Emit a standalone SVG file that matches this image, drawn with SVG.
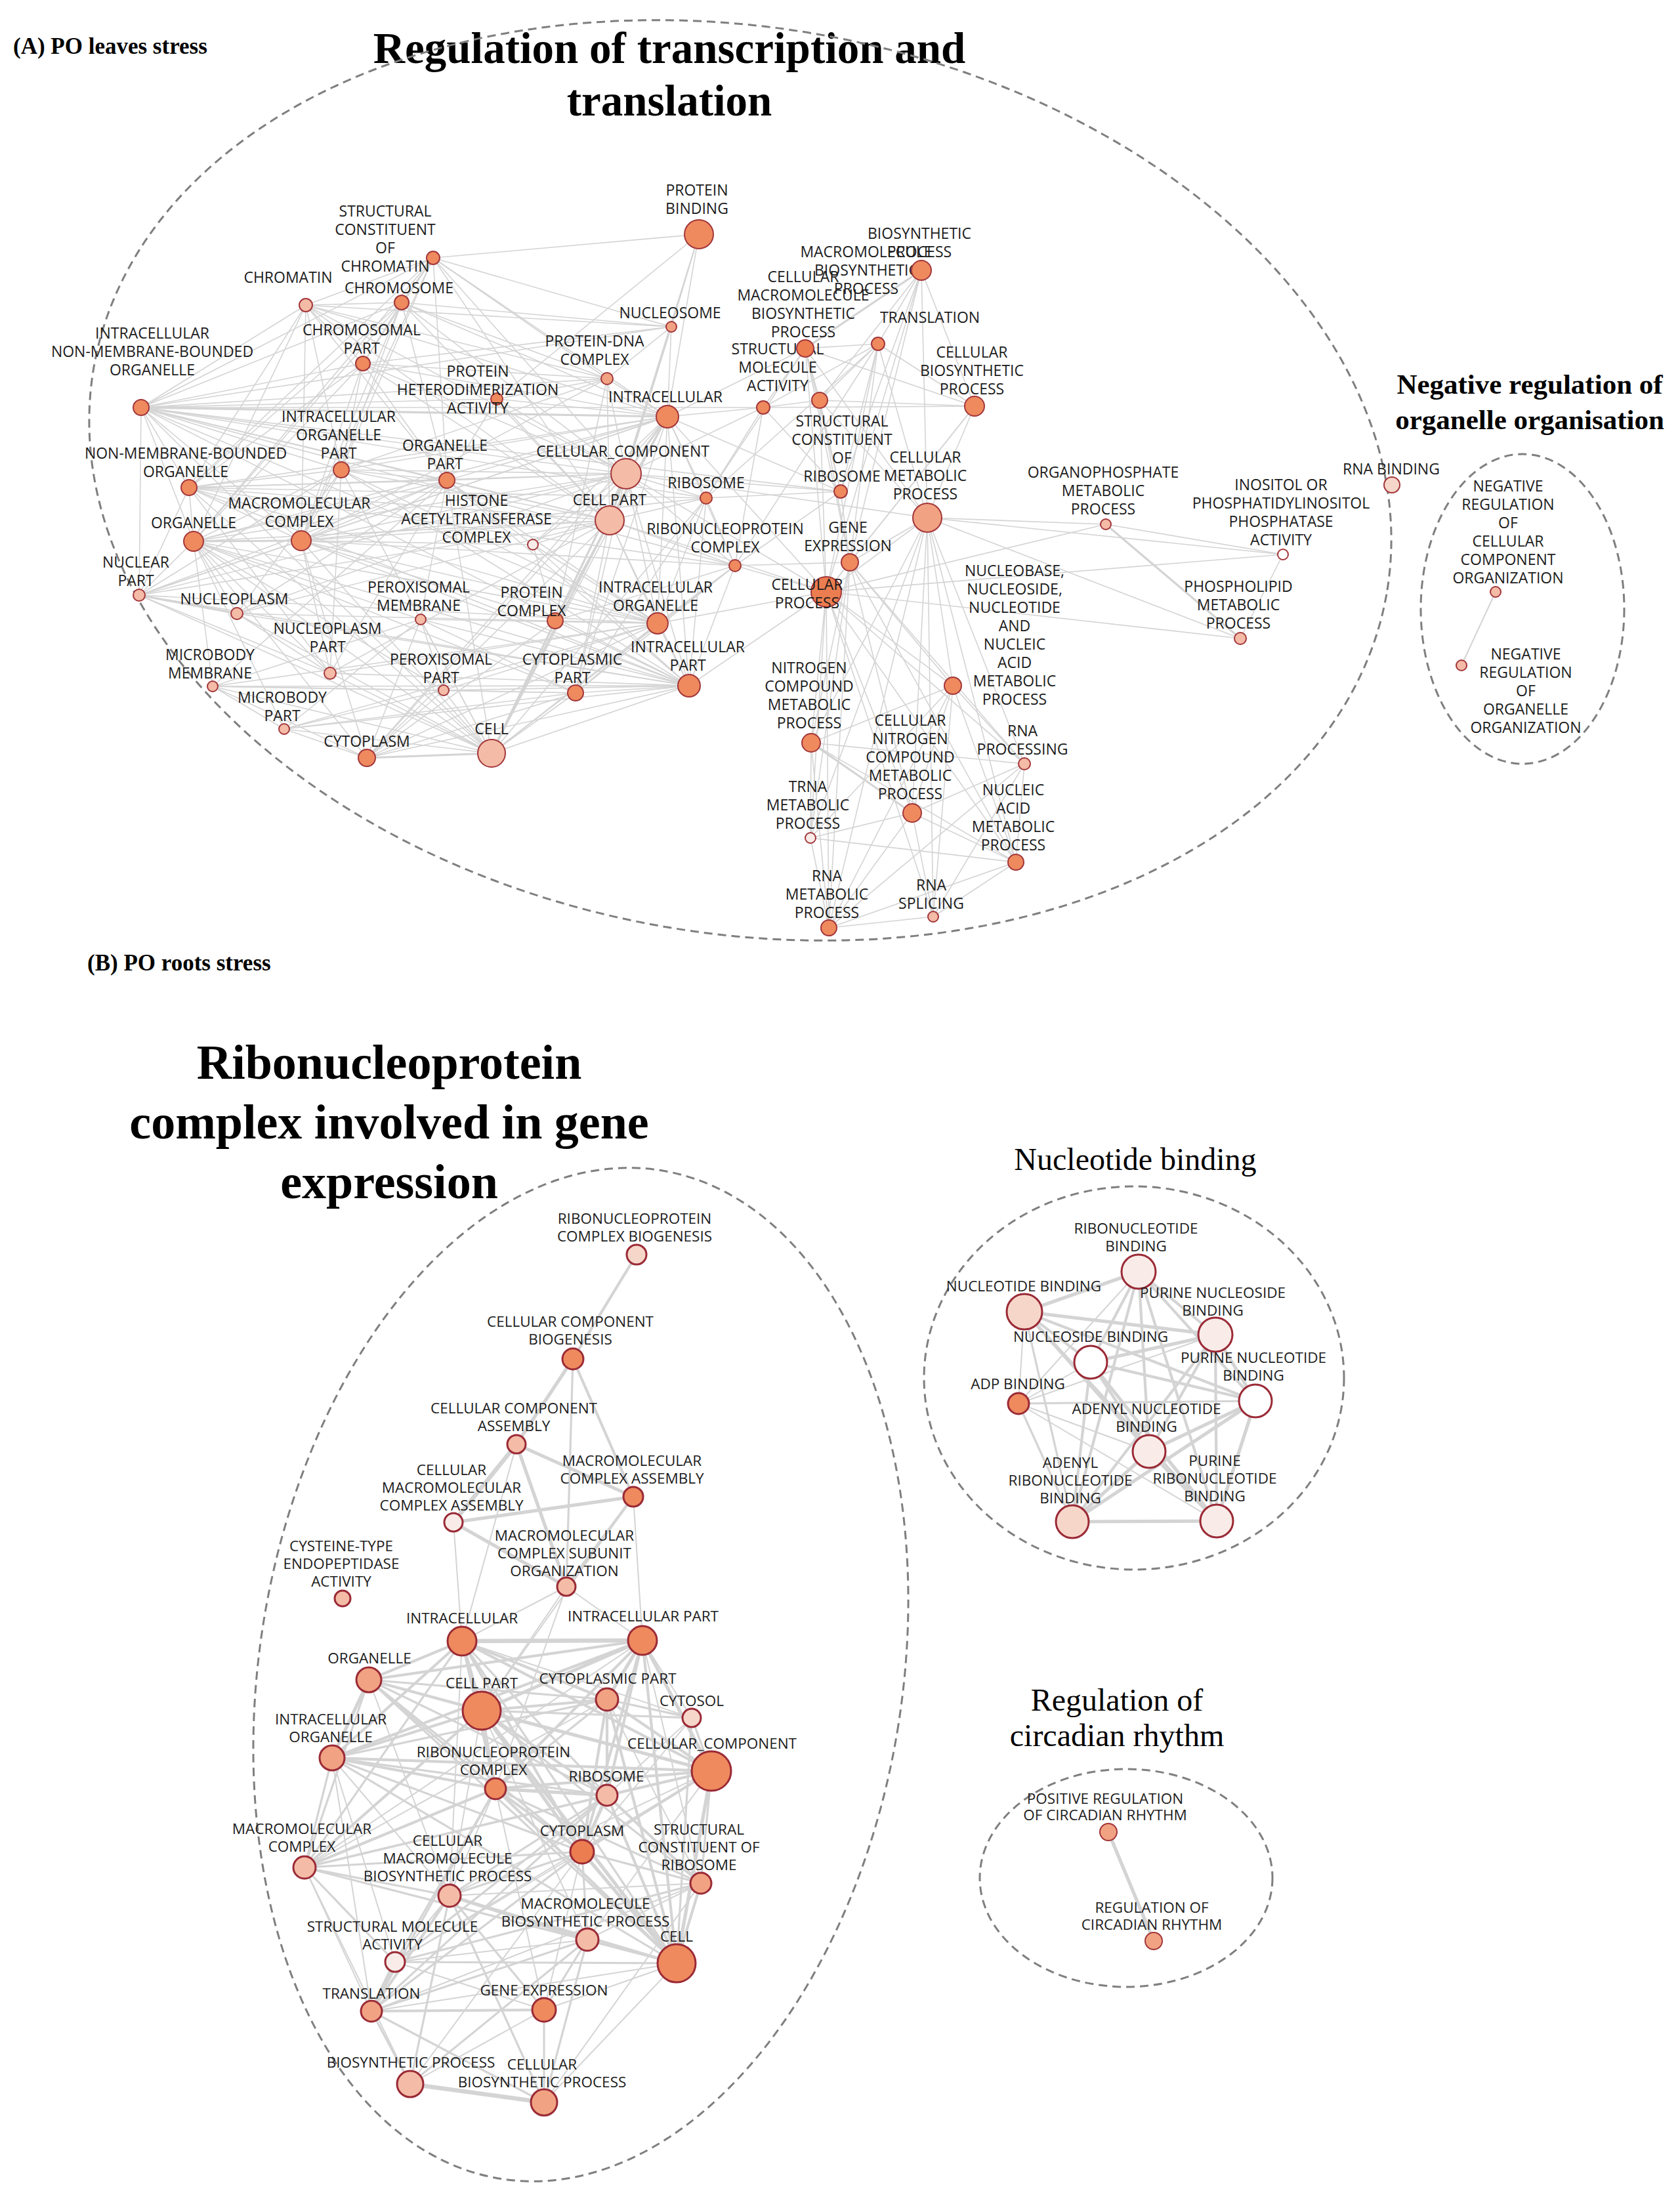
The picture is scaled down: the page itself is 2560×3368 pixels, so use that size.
<svg xmlns="http://www.w3.org/2000/svg" width="2560" height="3368" viewBox="0 0 2560 3368">
<style>
.hull{fill:none;stroke:#7f7f7f;stroke-width:3;stroke-dasharray:13 8}
.edges path{fill:none;stroke:#d4d4d4;stroke-linecap:round}
.k1 path{stroke-width:1.6}
.k2 path{stroke-width:2}
.k3 path{stroke-width:3.2}
.k4 path{stroke-width:4.2}
.k5 path{stroke-width:5.2}
.k6 path{stroke-width:6.5}
.na{stroke:#a3363a;stroke-width:2}
.nb{stroke:#9b2a36;stroke-width:3}
.c0{fill:#ec7d50}.c1{fill:#ee8a5e}.c2{fill:#f1a282}.c3{fill:#f4bba6}.c4{fill:#f7d6ca}.c5{fill:#f9ece8}.c6{fill:#ffffff}
text{font-family:'Open Sans','DejaVu Sans',sans-serif;fill:#1c1c1c;text-anchor:middle}
.t{font-size:23px}
.u{font-size:22.5px}
.h{font-family:'Liberation Serif','Times New Roman',serif;fill:#000}
.s{text-anchor:start}
</style>
<rect width="2560" height="3368" fill="#fff"/>

<g id="titles">
<text class="h s" x="20" y="82" font-size="35" font-weight="bold">(A) PO leaves stress</text>
<text class="h" x="1020" y="96" font-size="67" font-weight="bold">Regulation of transcription and</text>
<text class="h" x="1020" y="176" font-size="67" font-weight="bold">translation</text>
<text class="h" x="2331" y="600" font-size="43" font-weight="bold">Negative regulation of</text>
<text class="h" x="2331" y="654" font-size="43" font-weight="bold">organelle organisation</text>
<text class="h s" x="133" y="1479" font-size="35" font-weight="bold">(B) PO roots stress</text>
<text class="h" x="593" y="1644" font-size="74" font-weight="bold">Ribonucleoprotein</text>
<text class="h" x="593" y="1735" font-size="74" font-weight="bold">complex involved in gene</text>
<text class="h" x="593" y="1826" font-size="74" font-weight="bold">expression</text>
<text class="h" x="1730" y="1783" font-size="48">Nucleotide binding</text>
<text class="h" x="1702" y="2607" font-size="48">Regulation of</text>
<text class="h" x="1702" y="2661" font-size="48">circadian rhythm</text>
</g>

<g id="clusters">
<ellipse class="hull" cx="1128" cy="732" rx="1000" ry="690" transform="rotate(10 1128 732)"/>
<ellipse class="hull" cx="2320" cy="928" rx="155" ry="236"/>
<ellipse class="hull" cx="885" cy="2552" rx="490" ry="778" transform="rotate(9 885 2552)"/>
<ellipse class="hull" cx="1728" cy="2100" rx="320" ry="292"/>
<ellipse class="hull" cx="1716" cy="2862" rx="223" ry="166"/>
</g>

<g id="connectors" class="edges">
<g class="k1">
<path d="M660 393L466 465"/><path d="M660 393L612 461"/><path d="M660 393L553 554"/><path d="M660 393L1065 357"/><path d="M660 393L1023 498"/><path d="M660 393L925 577"/><path d="M660 393L215 621"/><path d="M660 393L1017 635"/><path d="M660 393L520 716"/><path d="M660 393L681 732"/><path d="M660 393L295 825"/><path d="M660 393L954 722"/><path d="M660 393L929 793"/><path d="M660 393L459 824"/><path d="M660 393L288 743"/>
<path d="M466 465L612 461"/><path d="M466 465L553 554"/><path d="M466 465L215 621"/><path d="M466 465L520 716"/><path d="M466 465L288 743"/><path d="M466 465L295 825"/><path d="M466 465L681 732"/><path d="M466 465L459 824"/><path d="M466 465L1017 635"/><path d="M466 465L925 577"/><path d="M466 465L1023 498"/><path d="M466 465L929 793"/><path d="M466 465L954 722"/>
<path d="M612 461L553 554"/><path d="M612 461L215 621"/><path d="M612 461L520 716"/><path d="M612 461L681 732"/><path d="M612 461L288 743"/><path d="M612 461L295 825"/><path d="M612 461L1017 635"/><path d="M612 461L925 577"/><path d="M612 461L1023 498"/><path d="M612 461L954 722"/><path d="M612 461L459 824"/><path d="M612 461L929 793"/>
<path d="M553 554L520 716"/><path d="M553 554L681 732"/><path d="M553 554L215 621"/><path d="M553 554L288 743"/><path d="M553 554L1017 635"/><path d="M553 554L459 824"/><path d="M553 554L925 577"/><path d="M553 554L1023 498"/><path d="M553 554L954 722"/><path d="M553 554L295 825"/><path d="M553 554L929 793"/>
<path d="M215 621L288 743"/><path d="M215 621L295 825"/><path d="M215 621L520 716"/><path d="M215 621L681 732"/><path d="M215 621L954 722"/><path d="M215 621L929 793"/><path d="M215 621L459 824"/><path d="M215 621L1120 862"/><path d="M215 621L1076 759"/><path d="M215 621L1002 950"/><path d="M215 621L1050 1045"/><path d="M215 621L925 577"/><path d="M215 621L1023 498"/><path d="M215 621L757 608"/><path d="M215 621L212 907"/><path d="M215 621L749 1148"/><path d="M215 621L1281 749"/><path d="M215 621L1163 621"/>
<path d="M288 743L295 825"/><path d="M288 743L520 716"/><path d="M288 743L681 732"/><path d="M288 743L1017 635"/><path d="M288 743L954 722"/><path d="M288 743L929 793"/><path d="M288 743L459 824"/><path d="M288 743L1120 862"/><path d="M288 743L1076 759"/><path d="M288 743L1002 950"/><path d="M288 743L1050 1045"/><path d="M288 743L212 907"/><path d="M288 743L749 1148"/><path d="M288 743L503 1026"/>
<path d="M295 825L520 716"/><path d="M295 825L681 732"/><path d="M295 825L1017 635"/><path d="M295 825L954 722"/><path d="M295 825L929 793"/><path d="M295 825L1002 950"/><path d="M295 825L1050 1045"/><path d="M295 825L212 907"/><path d="M295 825L361 935"/><path d="M295 825L503 1026"/><path d="M295 825L749 1148"/><path d="M295 825L559 1155"/><path d="M295 825L324 1046"/><path d="M295 825L433 1111"/><path d="M295 825L641 944"/><path d="M295 825L676 1052"/><path d="M295 825L877 1056"/>
<path d="M212 907L503 1026"/><path d="M212 907L520 716"/><path d="M212 907L681 732"/><path d="M212 907L1002 950"/><path d="M212 907L1050 1045"/><path d="M212 907L929 793"/><path d="M212 907L749 1148"/><path d="M212 907L954 722"/><path d="M212 907L1017 635"/><path d="M212 907L459 824"/>
<path d="M361 935L503 1026"/><path d="M361 935L520 716"/><path d="M361 935L681 732"/><path d="M361 935L1002 950"/><path d="M361 935L1050 1045"/><path d="M361 935L749 1148"/><path d="M361 935L954 722"/><path d="M361 935L929 793"/>
<path d="M324 1046L433 1111"/><path d="M324 1046L641 944"/><path d="M324 1046L676 1052"/><path d="M324 1046L559 1155"/><path d="M324 1046L749 1148"/><path d="M324 1046L877 1056"/><path d="M324 1046L1002 950"/><path d="M324 1046L1050 1045"/><path d="M324 1046L681 732"/>
<path d="M433 1111L641 944"/><path d="M433 1111L676 1052"/><path d="M433 1111L559 1155"/><path d="M433 1111L749 1148"/><path d="M433 1111L877 1056"/><path d="M433 1111L1050 1045"/><path d="M433 1111L1002 950"/>
<path d="M503 1026L520 716"/><path d="M503 1026L681 732"/><path d="M503 1026L1002 950"/><path d="M503 1026L1050 1045"/><path d="M503 1026L749 1148"/><path d="M503 1026L459 824"/><path d="M503 1026L929 793"/>
<path d="M641 944L676 1052"/><path d="M641 944L559 1155"/><path d="M641 944L749 1148"/><path d="M641 944L877 1056"/><path d="M641 944L1050 1045"/><path d="M641 944L1002 950"/><path d="M641 944L681 732"/>
<path d="M676 1052L559 1155"/><path d="M676 1052L749 1148"/><path d="M676 1052L877 1056"/><path d="M676 1052L1050 1045"/><path d="M676 1052L1002 950"/>
<path d="M559 1155L877 1056"/><path d="M559 1155L1050 1045"/><path d="M559 1155L1002 950"/><path d="M559 1155L929 793"/><path d="M559 1155L954 722"/><path d="M559 1155L1017 635"/><path d="M559 1155L846 946"/><path d="M559 1155L459 824"/>
<path d="M749 1148L1017 635"/><path d="M749 1148L1050 1045"/><path d="M749 1148L1002 950"/><path d="M749 1148L877 1056"/><path d="M749 1148L846 946"/><path d="M749 1148L459 824"/><path d="M749 1148L1120 862"/><path d="M749 1148L1076 759"/><path d="M749 1148L681 732"/><path d="M749 1148L520 716"/>
<path d="M877 1056L1050 1045"/><path d="M877 1056L1002 950"/><path d="M877 1056L929 793"/><path d="M877 1056L954 722"/><path d="M877 1056L1017 635"/><path d="M877 1056L1120 862"/><path d="M877 1056L1076 759"/>
<path d="M520 716L681 732"/><path d="M520 716L1017 635"/><path d="M520 716L954 722"/><path d="M520 716L929 793"/><path d="M520 716L459 824"/><path d="M520 716L1002 950"/><path d="M520 716L1050 1045"/><path d="M520 716L925 577"/>
<path d="M681 732L1017 635"/><path d="M681 732L954 722"/><path d="M681 732L929 793"/><path d="M681 732L459 824"/><path d="M681 732L1002 950"/><path d="M681 732L1050 1045"/><path d="M681 732L812 830"/><path d="M681 732L757 608"/>
<path d="M459 824L1017 635"/><path d="M459 824L954 722"/><path d="M459 824L929 793"/><path d="M459 824L846 946"/><path d="M459 824L1120 862"/><path d="M459 824L1076 759"/><path d="M459 824L812 830"/><path d="M459 824L1050 1045"/><path d="M459 824L1002 950"/><path d="M459 824L925 577"/>
<path d="M757 608L1065 357"/><path d="M757 608L925 577"/><path d="M757 608L1017 635"/><path d="M757 608L954 722"/><path d="M757 608L929 793"/>
<path d="M925 577L1023 498"/><path d="M925 577L1017 635"/><path d="M925 577L954 722"/><path d="M925 577L929 793"/><path d="M925 577L846 946"/>
<path d="M1023 498L1017 635"/><path d="M1023 498L954 722"/><path d="M1023 498L929 793"/><path d="M1023 498L1065 357"/>
<path d="M1065 357L1017 635"/><path d="M1065 357L954 722"/><path d="M1065 357L929 793"/>
<path d="M1017 635L1002 950"/><path d="M1017 635L1050 1045"/><path d="M1017 635L1076 759"/><path d="M1017 635L1120 862"/><path d="M1017 635L1163 621"/><path d="M1017 635L1281 749"/><path d="M1017 635L1227 531"/><path d="M1017 635L846 946"/><path d="M1017 635L812 830"/><path d="M1017 635L1259 902"/>
<path d="M954 722L1002 950"/><path d="M954 722L1050 1045"/><path d="M954 722L1076 759"/><path d="M954 722L1120 862"/><path d="M954 722L846 946"/><path d="M954 722L1163 621"/><path d="M954 722L1281 749"/><path d="M954 722L1259 902"/><path d="M954 722L812 830"/><path d="M954 722L1413 789"/>
<path d="M929 793L1002 950"/><path d="M929 793L1050 1045"/><path d="M929 793L1076 759"/><path d="M929 793L1120 862"/><path d="M929 793L846 946"/><path d="M929 793L812 830"/><path d="M929 793L1259 902"/>
<path d="M812 830L846 946"/><path d="M812 830L1002 950"/><path d="M812 830L1050 1045"/>
<path d="M846 946L1002 950"/><path d="M846 946L1050 1045"/><path d="M846 946L1120 862"/>
<path d="M1002 950L1050 1045"/><path d="M1002 950L1120 862"/><path d="M1002 950L1076 759"/><path d="M1002 950L1259 902"/>
<path d="M1050 1045L1120 862"/><path d="M1050 1045L1076 759"/><path d="M1050 1045L1259 902"/>
<path d="M1076 759L1120 862"/><path d="M1076 759L1281 749"/><path d="M1076 759L1163 621"/><path d="M1076 759L1227 531"/><path d="M1076 759L1338 524"/>
<path d="M1120 862L1281 749"/><path d="M1120 862L1163 621"/><path d="M1120 862L1295 857"/><path d="M1120 862L1259 902"/><path d="M1120 862L1338 524"/>
<path d="M1163 621L1281 749"/><path d="M1163 621L1227 531"/><path d="M1163 621L1338 524"/><path d="M1163 621L1249 610"/><path d="M1163 621L1485 619"/>
<path d="M1281 749L1227 531"/><path d="M1281 749L1338 524"/><path d="M1281 749L1249 610"/><path d="M1281 749L1295 857"/>
<path d="M1404 412L1249 610"/><path d="M1404 412L1338 524"/><path d="M1404 412L1485 619"/><path d="M1404 412L1413 789"/><path d="M1404 412L1295 857"/><path d="M1404 412L1259 902"/><path d="M1404 412L1281 749"/>
<path d="M1227 531L1249 610"/><path d="M1227 531L1338 524"/><path d="M1227 531L1485 619"/><path d="M1227 531L1413 789"/><path d="M1227 531L1295 857"/><path d="M1227 531L1259 902"/>
<path d="M1249 610L1338 524"/><path d="M1249 610L1485 619"/><path d="M1249 610L1413 789"/><path d="M1249 610L1295 857"/><path d="M1249 610L1259 902"/>
<path d="M1338 524L1485 619"/><path d="M1338 524L1413 789"/><path d="M1338 524L1295 857"/><path d="M1338 524L1259 902"/>
<path d="M1485 619L1413 789"/><path d="M1485 619L1295 857"/><path d="M1485 619L1259 902"/>
<path d="M1413 789L1295 857"/><path d="M1413 789L1259 902"/><path d="M1413 789L1236 1132"/><path d="M1413 789L1452 1045"/><path d="M1413 789L1390 1239"/><path d="M1413 789L1561 1164"/><path d="M1413 789L1548 1314"/><path d="M1413 789L1263 1414"/><path d="M1413 789L1235 1277"/><path d="M1413 789L1422 1397"/><path d="M1413 789L1685 799"/><path d="M1413 789L1955 845"/><path d="M1413 789L1890 973"/>
<path d="M1295 857L1259 902"/><path d="M1295 857L1236 1132"/><path d="M1295 857L1452 1045"/><path d="M1295 857L1390 1239"/><path d="M1295 857L1561 1164"/><path d="M1295 857L1548 1314"/><path d="M1295 857L1263 1414"/><path d="M1295 857L1235 1277"/>
<path d="M1259 902L1236 1132"/><path d="M1259 902L1452 1045"/><path d="M1259 902L1390 1239"/><path d="M1259 902L1561 1164"/><path d="M1259 902L1548 1314"/><path d="M1259 902L1263 1414"/><path d="M1259 902L1235 1277"/><path d="M1259 902L1422 1397"/><path d="M1259 902L1685 799"/><path d="M1259 902L1955 845"/><path d="M1259 902L1890 973"/>
<path d="M1236 1132L1452 1045"/><path d="M1236 1132L1561 1164"/><path d="M1236 1132L1548 1314"/><path d="M1236 1132L1263 1414"/><path d="M1236 1132L1235 1277"/>
<path d="M1452 1045L1390 1239"/><path d="M1452 1045L1561 1164"/><path d="M1452 1045L1548 1314"/><path d="M1452 1045L1263 1414"/><path d="M1452 1045L1235 1277"/><path d="M1452 1045L1422 1397"/>
<path d="M1390 1239L1561 1164"/><path d="M1390 1239L1548 1314"/><path d="M1390 1239L1263 1414"/><path d="M1390 1239L1235 1277"/><path d="M1390 1239L1422 1397"/>
<path d="M1561 1164L1548 1314"/><path d="M1561 1164L1263 1414"/><path d="M1561 1164L1422 1397"/>
<path d="M1235 1277L1548 1314"/><path d="M1235 1277L1263 1414"/>
<path d="M1548 1314L1263 1414"/><path d="M1548 1314L1422 1397"/><path d="M1263 1414L1422 1397"/>
<path d="M1685 799L1955 845"/><path d="M1955 845L1890 973"/>
</g>
<g class="k3">
<path d="M215 621L1017 635"/><path d="M295 825L459 824"/><path d="M212 907L361 935"/><path d="M559 1155L749 1148"/><path d="M749 1148L929 793"/><path d="M749 1148L954 722"/><path d="M1017 635L954 722"/><path d="M1017 635L929 793"/><path d="M954 722L929 793"/><path d="M1236 1132L1390 1239"/><path d="M1685 799L1890 973"/><path d="M1404 412L1227 531"/>
</g>
<g class="k2">
<path d="M2279 902L2227 1014"/>
<path d="M787 2201L704 2501"/><path d="M691 2320L704 2501"/><path d="M965 2281L979 2500"/><path d="M965 2281L734 2607"/><path d="M863 2418L704 2501"/><path d="M863 2418L979 2500"/><path d="M863 2418L755 2726"/><path d="M863 2418L734 2607"/>
<path d="M704 2501L685 2889"/><path d="M704 2501L1054 2618"/><path d="M979 2500L1054 2618"/><path d="M979 2500L1068 2870"/><path d="M979 2500L464 2846"/><path d="M562 2560L685 2889"/><path d="M734 2607L685 2889"/><path d="M734 2607L895 2956"/><path d="M925 2590L464 2846"/><path d="M925 2590L1068 2870"/><path d="M1054 2618L887 2822"/><path d="M1054 2618L925 2736"/><path d="M506 2679L685 2889"/><path d="M506 2679L602 2990"/><path d="M506 2679L566 3065"/><path d="M1084 2699L685 2889"/><path d="M1084 2699L895 2956"/><path d="M1084 2699L602 2990"/><path d="M755 2726L829 3063"/><path d="M755 2726L685 2889"/><path d="M464 2846L566 3065"/><path d="M464 2846L625 3176"/><path d="M887 2822L602 2990"/><path d="M887 2822L829 3063"/><path d="M1068 2870L566 3065"/><path d="M1068 2870L895 2956"/><path d="M1068 2870L685 2889"/><path d="M685 2889L602 2990"/><path d="M895 2956L602 2990"/><path d="M602 2990L829 3063"/><path d="M1031 2992L566 3065"/><path d="M1031 2992L829 3063"/><path d="M1031 2992L829 3204"/><path d="M829 3063L625 3176"/><path d="M829 3204L1068 2870"/><path d="M625 3176L887 2822"/>
<path d="M1552 2139L1662 2076"/><path d="M1552 2139L1751 2212"/><path d="M1552 2139L1854 2318"/><path d="M1552 2139L1735 1938"/><path d="M1552 2139L1852 2034"/><path d="M1552 2139L1561 1999"/>
</g>
<g class="k3">
<path d="M873 2071L863 2418"/><path d="M704 2501L925 2736"/><path d="M704 2501L464 2846"/><path d="M704 2501L1031 2992"/><path d="M562 2560L1084 2699"/><path d="M562 2560L925 2590"/><path d="M562 2560L755 2726"/><path d="M562 2560L925 2736"/><path d="M562 2560L464 2846"/><path d="M562 2560L887 2822"/><path d="M562 2560L1031 2992"/><path d="M734 2607L1054 2618"/><path d="M734 2607L1068 2870"/><path d="M925 2590L1054 2618"/><path d="M925 2590L755 2726"/><path d="M925 2590L506 2679"/><path d="M1054 2618L1084 2699"/><path d="M1054 2618L1031 2992"/><path d="M506 2679L925 2736"/><path d="M506 2679L464 2846"/><path d="M506 2679L887 2822"/><path d="M506 2679L1031 2992"/><path d="M1084 2699L464 2846"/><path d="M1084 2699L1068 2870"/><path d="M755 2726L1068 2870"/><path d="M755 2726L602 2990"/><path d="M755 2726L566 3065"/><path d="M925 2736L464 2846"/><path d="M925 2736L602 2990"/><path d="M925 2736L566 3065"/><path d="M925 2736L685 2889"/><path d="M464 2846L887 2822"/><path d="M464 2846L1031 2992"/><path d="M464 2846L685 2889"/><path d="M464 2846L602 2990"/><path d="M887 2822L1068 2870"/><path d="M887 2822L685 2889"/><path d="M887 2822L895 2956"/><path d="M887 2822L566 3065"/><path d="M1068 2870L602 2990"/><path d="M685 2889L829 3063"/><path d="M685 2889L625 3176"/><path d="M685 2889L829 3204"/><path d="M685 2889L1031 2992"/><path d="M895 2956L566 3065"/><path d="M895 2956L829 3063"/><path d="M895 2956L625 3176"/><path d="M895 2956L829 3204"/><path d="M602 2990L1031 2992"/><path d="M566 3065L625 3176"/><path d="M566 3065L829 3204"/><path d="M829 3063L829 3204"/>
<path d="M1561 1999L1634 2319"/><path d="M1552 2139L1913 2135"/><path d="M1552 2139L1634 2319"/>
</g>
<g class="k4">
<path d="M970 1912L873 2071"/><path d="M873 2071L965 2281"/><path d="M965 2281L863 2418"/><path d="M704 2501L562 2560"/><path d="M704 2501L506 2679"/><path d="M704 2501L1084 2699"/><path d="M704 2501L925 2590"/><path d="M704 2501L755 2726"/><path d="M704 2501L887 2822"/><path d="M979 2500L562 2560"/><path d="M979 2500L506 2679"/><path d="M979 2500L755 2726"/><path d="M979 2500L925 2736"/><path d="M979 2500L887 2822"/><path d="M979 2500L1031 2992"/><path d="M562 2560L734 2607"/><path d="M734 2607L925 2590"/><path d="M734 2607L506 2679"/><path d="M734 2607L755 2726"/><path d="M734 2607L925 2736"/><path d="M734 2607L464 2846"/><path d="M925 2590L1084 2699"/><path d="M925 2590L925 2736"/><path d="M925 2590L887 2822"/><path d="M925 2590L1031 2992"/><path d="M506 2679L1084 2699"/><path d="M506 2679L755 2726"/><path d="M1084 2699L755 2726"/><path d="M1084 2699L925 2736"/><path d="M1084 2699L887 2822"/><path d="M755 2726L464 2846"/><path d="M755 2726L887 2822"/><path d="M755 2726L1031 2992"/><path d="M925 2736L1068 2870"/><path d="M925 2736L1031 2992"/><path d="M1068 2870L1031 2992"/><path d="M685 2889L566 3065"/><path d="M895 2956L1031 2992"/><path d="M566 3065L829 3063"/>
<path d="M1561 1999L1913 2135"/><path d="M1735 1938L1852 2034"/><path d="M1735 1938L1913 2135"/><path d="M1735 1938L1662 2076"/><path d="M1735 1938L1751 2212"/><path d="M1735 1938L1634 2319"/><path d="M1735 1938L1854 2318"/><path d="M1561 1999L1662 2076"/><path d="M1561 1999L1751 2212"/><path d="M1852 2034L1751 2212"/><path d="M1852 2034L1634 2319"/><path d="M1852 2034L1854 2318"/><path d="M1662 2076L1913 2135"/><path d="M1662 2076L1751 2212"/><path d="M1662 2076L1634 2319"/>
</g>
<g class="k5">
<path d="M787 2201L873 2071"/><path d="M787 2201L965 2281"/><path d="M787 2201L863 2418"/><path d="M691 2320L965 2281"/><path d="M691 2320L863 2418"/><path d="M704 2501L734 2607"/><path d="M979 2500L734 2607"/><path d="M979 2500L925 2590"/><path d="M979 2500L1084 2699"/><path d="M562 2560L506 2679"/><path d="M734 2607L1084 2699"/><path d="M734 2607L887 2822"/><path d="M734 2607L1031 2992"/><path d="M1084 2699L1031 2992"/><path d="M755 2726L925 2736"/><path d="M925 2736L887 2822"/><path d="M887 2822L1031 2992"/><path d="M685 2889L895 2956"/>
<path d="M1735 1938L1561 1999"/><path d="M1561 1999L1852 2034"/><path d="M1852 2034L1662 2076"/><path d="M1852 2034L1913 2135"/><path d="M1913 2135L1751 2212"/><path d="M1913 2135L1634 2319"/><path d="M1913 2135L1854 2318"/><path d="M1751 2212L1634 2319"/><path d="M1751 2212L1854 2318"/><path d="M1634 2319L1854 2318"/><path d="M1662 2076L1854 2318"/><path d="M1561 1999L1854 2318"/>
<path d="M1689 2792L1758 2958"/>
</g>
<g class="k6">
<path d="M704 2501L979 2500"/><path d="M602 2990L566 3065"/><path d="M625 3176L829 3204"/><path d="M787 2201L691 2320"/>
</g>
</g>

<g id="nodes-A" class="t">
<g id="protein-binding"><circle class="na c1" cx="1065" cy="357" r="22"/><text x="1062" y="298">PROTEIN<tspan x="1062" dy="28">BINDING</tspan></text></g>
<g id="structural-constituent-of-chromatin"><circle class="na c1" cx="660" cy="393" r="10"/><text x="587" y="330">STRUCTURAL<tspan x="587" dy="28">CONSTITUENT</tspan><tspan x="587" dy="28">OF</tspan><tspan x="587" dy="28">CHROMATIN</tspan></text></g>
<g id="chromatin"><circle class="na c3" cx="466" cy="465" r="10"/><text x="439" y="431">CHROMATIN</text></g>
<g id="chromosome"><circle class="na c1" cx="612" cy="461" r="11"/><text x="608" y="447">CHROMOSOME</text></g>
<g id="chromosomal-part"><circle class="na c1" cx="553" cy="554" r="11"/><text x="551" y="511">CHROMOSOMAL<tspan x="551" dy="28">PART</tspan></text></g>
<g id="intracellular-non-membrane-bounded-organelle"><circle class="na c1" cx="215" cy="621" r="12"/><text x="232" y="516">INTRACELLULAR<tspan x="232" dy="28">NON-MEMBRANE-BOUNDED</tspan><tspan x="232" dy="28">ORGANELLE</tspan></text></g>
<g id="protein-heterodimerization-activity"><circle class="na c1" cx="757" cy="608" r="9"/><text x="728" y="574">PROTEIN<tspan x="728" dy="28">HETERODIMERIZATION</tspan><tspan x="728" dy="28">ACTIVITY</tspan></text></g>
<g id="protein-dna-complex"><circle class="na c2" cx="925" cy="577" r="9"/><text x="906" y="528">PROTEIN-DNA<tspan x="906" dy="28">COMPLEX</tspan></text></g>
<g id="nucleosome"><circle class="na c2" cx="1023" cy="498" r="8"/><text x="1021" y="485">NUCLEOSOME</text></g>
<g id="intracellular-a"><circle class="na c1" cx="1017" cy="635" r="17"/><text x="1014" y="613">INTRACELLULAR</text></g>
<g id="intracellular-organelle-part"><circle class="na c1" cx="520" cy="716" r="12"/><text x="516" y="643">INTRACELLULAR<tspan x="516" dy="28">ORGANELLE</tspan><tspan x="516" dy="28">PART</tspan></text></g>
<g id="organelle-part"><circle class="na c1" cx="681" cy="732" r="12"/><text x="678" y="687">ORGANELLE<tspan x="678" dy="28">PART</tspan></text></g>
<g id="non-membrane-bounded-organelle"><circle class="na c1" cx="288" cy="743" r="12"/><text x="283" y="699">NON-MEMBRANE-BOUNDED<tspan x="283" dy="28">ORGANELLE</tspan></text></g>
<g id="cellular-component-a"><circle class="na c3" cx="954" cy="722" r="23"/><text x="949" y="696">CELLULAR_COMPONENT</text></g>
<g id="cell-part-a"><circle class="na c3" cx="929" cy="793" r="22"/><text x="929" y="770">CELL PART</text></g>
<g id="macromolecular-complex-a"><circle class="na c1" cx="459" cy="824" r="15"/><text x="456" y="775">MACROMOLECULAR<tspan x="456" dy="28">COMPLEX</tspan></text></g>
<g id="organelle-a"><circle class="na c1" cx="295" cy="825" r="15"/><text x="295" y="805">ORGANELLE</text></g>
<g id="histone-acetyltransferase-complex"><circle class="na c5" cx="812" cy="830" r="8"/><text x="726" y="771">HISTONE<tspan x="726" dy="28">ACETYLTRANSFERASE</tspan><tspan x="726" dy="28">COMPLEX</tspan></text></g>
<g id="nuclear-part"><circle class="na c3" cx="212" cy="907" r="9"/><text x="207" y="865">NUCLEAR<tspan x="207" dy="28">PART</tspan></text></g>
<g id="nucleoplasm"><circle class="na c3" cx="361" cy="935" r="9"/><text x="357" y="921">NUCLEOPLASM</text></g>
<g id="peroxisomal-membrane"><circle class="na c3" cx="641" cy="944" r="8"/><text x="638" y="903">PEROXISOMAL<tspan x="638" dy="28">MEMBRANE</tspan></text></g>
<g id="protein-complex"><circle class="na c1" cx="846" cy="946" r="12"/><text x="810" y="911">PROTEIN<tspan x="810" dy="28">COMPLEX</tspan></text></g>
<g id="intracellular-organelle-a"><circle class="na c1" cx="1002" cy="950" r="16"/><text x="999" y="903">INTRACELLULAR<tspan x="999" dy="28">ORGANELLE</tspan></text></g>
<g id="nucleoplasm-part"><circle class="na c3" cx="503" cy="1026" r="9"/><text x="499" y="966">NUCLEOPLASM<tspan x="499" dy="28">PART</tspan></text></g>
<g id="microbody-membrane"><circle class="na c3" cx="324" cy="1046" r="8"/><text x="320" y="1006">MICROBODY<tspan x="320" dy="28">MEMBRANE</tspan></text></g>
<g id="peroxisomal-part"><circle class="na c3" cx="676" cy="1052" r="8"/><text x="672" y="1013">PEROXISOMAL<tspan x="672" dy="28">PART</tspan></text></g>
<g id="cytoplasmic-part-a"><circle class="na c1" cx="877" cy="1056" r="12"/><text x="872" y="1013">CYTOPLASMIC<tspan x="872" dy="28">PART</tspan></text></g>
<g id="microbody-part"><circle class="na c3" cx="433" cy="1111" r="8"/><text x="430" y="1071">MICROBODY<tspan x="430" dy="28">PART</tspan></text></g>
<g id="cytoplasm-a"><circle class="na c1" cx="559" cy="1155" r="13"/><text x="559" y="1138">CYTOPLASM</text></g>
<g id="cell-a"><circle class="na c3" cx="749" cy="1148" r="21"/><text x="749" y="1119">CELL</text></g>
<g id="intracellular-part-a"><circle class="na c1" cx="1050" cy="1045" r="17"/><text x="1048" y="994">INTRACELLULAR<tspan x="1048" dy="28">PART</tspan></text></g>
<g id="ribonucleoprotein-complex-a"><circle class="na c1" cx="1120" cy="862" r="9"/><text x="1105" y="814">RIBONUCLEOPROTEIN<tspan x="1105" dy="28">COMPLEX</tspan></text></g>
<g id="ribosome-a"><circle class="na c1" cx="1076" cy="759" r="9"/><text x="1076" y="744">RIBOSOME</text></g>
<g id="structural-constituent-of-ribosome-a"><circle class="na c1" cx="1281" cy="749" r="10"/><text x="1283" y="650">STRUCTURAL<tspan x="1283" dy="28">CONSTITUENT</tspan><tspan x="1283" dy="28">OF</tspan><tspan x="1283" dy="28">RIBOSOME</tspan></text></g>
<g id="structural-molecule-activity-a"><circle class="na c1" cx="1163" cy="621" r="10"/><text x="1185" y="540">STRUCTURAL<tspan x="1185" dy="28">MOLECULE</tspan><tspan x="1185" dy="28">ACTIVITY</tspan></text></g>
<g id="macromolecule-biosynthetic-process-a"><circle class="na c1" cx="1249" cy="610" r="12"/><text x="1320" y="392">MACROMOLECULE<tspan x="1320" dy="28">BIOSYNTHETIC</tspan><tspan x="1320" dy="28">PROCESS</tspan></text></g>
<g id="cellular-macromolecule-biosynthetic-process-a"><circle class="na c0" cx="1227" cy="531" r="13"/><text x="1224" y="430">CELLULAR<tspan x="1224" dy="28">MACROMOLECULE</tspan><tspan x="1224" dy="28">BIOSYNTHETIC</tspan><tspan x="1224" dy="28">PROCESS</tspan></text></g>
<g id="biosynthetic-process-a"><circle class="na c1" cx="1404" cy="412" r="15"/><text x="1401" y="364">BIOSYNTHETIC<tspan x="1401" dy="28">PROCESS</tspan></text></g>
<g id="translation-a"><circle class="na c1" cx="1338" cy="524" r="10"/><text x="1417" y="492">TRANSLATION</text></g>
<g id="cellular-biosynthetic-process-a"><circle class="na c1" cx="1485" cy="619" r="15"/><text x="1481" y="545">CELLULAR<tspan x="1481" dy="28">BIOSYNTHETIC</tspan><tspan x="1481" dy="28">PROCESS</tspan></text></g>
<g id="cellular-metabolic-process"><circle class="na c2" cx="1413" cy="789" r="22"/><text x="1410" y="705">CELLULAR<tspan x="1410" dy="28">METABOLIC</tspan><tspan x="1410" dy="28">PROCESS</tspan></text></g>
<g id="gene-expression-a"><circle class="na c1" cx="1295" cy="857" r="13"/><text x="1292" y="812">GENE<tspan x="1292" dy="28">EXPRESSION</tspan></text></g>
<g id="cellular-process"><circle class="na c0" cx="1259" cy="902" r="23"/><text x="1230" y="899">CELLULAR<tspan x="1230" dy="28">PROCESS</tspan></text></g>
<g id="nitrogen-compound-metabolic-process"><circle class="na c1" cx="1236" cy="1132" r="14"/><text x="1233" y="1026">NITROGEN<tspan x="1233" dy="28">COMPOUND</tspan><tspan x="1233" dy="28">METABOLIC</tspan><tspan x="1233" dy="28">PROCESS</tspan></text></g>
<g id="nucleobase-metabolic-process"><circle class="na c1" cx="1452" cy="1045" r="13"/><text x="1546" y="878">NUCLEOBASE,<tspan x="1546" dy="28">NUCLEOSIDE,</tspan><tspan x="1546" dy="28">NUCLEOTIDE</tspan><tspan x="1546" dy="28">AND</tspan><tspan x="1546" dy="28">NUCLEIC</tspan><tspan x="1546" dy="28">ACID</tspan><tspan x="1546" dy="28">METABOLIC</tspan><tspan x="1546" dy="28">PROCESS</tspan></text></g>
<g id="cellular-nitrogen-compound-metabolic-process"><circle class="na c1" cx="1390" cy="1239" r="14"/><text x="1387" y="1106">CELLULAR<tspan x="1387" dy="28">NITROGEN</tspan><tspan x="1387" dy="28">COMPOUND</tspan><tspan x="1387" dy="28">METABOLIC</tspan><tspan x="1387" dy="28">PROCESS</tspan></text></g>
<g id="rna-processing"><circle class="na c3" cx="1561" cy="1164" r="9"/><text x="1558" y="1122">RNA<tspan x="1558" dy="28">PROCESSING</tspan></text></g>
<g id="trna-metabolic-process"><circle class="na c5" cx="1235" cy="1277" r="8"/><text x="1231" y="1207">TRNA<tspan x="1231" dy="28">METABOLIC</tspan><tspan x="1231" dy="28">PROCESS</tspan></text></g>
<g id="nucleic-acid-metabolic-process"><circle class="na c1" cx="1548" cy="1314" r="12"/><text x="1544" y="1212">NUCLEIC<tspan x="1544" dy="28">ACID</tspan><tspan x="1544" dy="28">METABOLIC</tspan><tspan x="1544" dy="28">PROCESS</tspan></text></g>
<g id="rna-metabolic-process"><circle class="na c1" cx="1263" cy="1414" r="12"/><text x="1260" y="1343">RNA<tspan x="1260" dy="28">METABOLIC</tspan><tspan x="1260" dy="28">PROCESS</tspan></text></g>
<g id="rna-splicing"><circle class="na c3" cx="1422" cy="1397" r="8"/><text x="1419" y="1357">RNA<tspan x="1419" dy="28">SPLICING</tspan></text></g>
<g id="organophosphate-metabolic-process"><circle class="na c3" cx="1685" cy="799" r="8"/><text x="1681" y="728">ORGANOPHOSPHATE<tspan x="1681" dy="28">METABOLIC</tspan><tspan x="1681" dy="28">PROCESS</tspan></text></g>
<g id="inositol-phosphatase-activity"><circle class="na c6" cx="1955" cy="845" r="8"/><text x="1952" y="747">INOSITOL OR<tspan x="1952" dy="28">PHOSPHATIDYLINOSITOL</tspan><tspan x="1952" dy="28">PHOSPHATASE</tspan><tspan x="1952" dy="28">ACTIVITY</tspan></text></g>
<g id="phospholipid-metabolic-process"><circle class="na c3" cx="1890" cy="973" r="9"/><text x="1887" y="902">PHOSPHOLIPID<tspan x="1887" dy="28">METABOLIC</tspan><tspan x="1887" dy="28">PROCESS</tspan></text></g>
<g id="rna-binding"><circle class="na c4" cx="2121" cy="739" r="12"/><text x="2120" y="723">RNA BINDING</text></g>
<g id="neg-reg-cellular-component-organization"><circle class="na c3" cx="2279" cy="902" r="8"/><text x="2298" y="749">NEGATIVE<tspan x="2298" dy="28">REGULATION</tspan><tspan x="2298" dy="28">OF</tspan><tspan x="2298" dy="28">CELLULAR</tspan><tspan x="2298" dy="28">COMPONENT</tspan><tspan x="2298" dy="28">ORGANIZATION</tspan></text></g>
<g id="neg-reg-organelle-organization"><circle class="na c3" cx="2227" cy="1014" r="8"/><text x="2325" y="1005">NEGATIVE<tspan x="2325" dy="28">REGULATION</tspan><tspan x="2325" dy="28">OF</tspan><tspan x="2325" dy="28">ORGANELLE</tspan><tspan x="2325" dy="28">ORGANIZATION</tspan></text></g>
</g>

<g id="nodes-B" class="u">
<g id="rnp-complex-biogenesis"><circle class="nb c4" cx="970" cy="1912" r="15"/><text x="967" y="1865">RIBONUCLEOPROTEIN<tspan x="967" dy="27">COMPLEX BIOGENESIS</tspan></text></g>
<g id="cellular-component-biogenesis"><circle class="nb c1" cx="873" cy="2071" r="16"/><text x="869" y="2022">CELLULAR COMPONENT<tspan x="869" dy="27">BIOGENESIS</tspan></text></g>
<g id="cellular-component-assembly"><circle class="nb c3" cx="787" cy="2201" r="14"/><text x="783" y="2154">CELLULAR COMPONENT<tspan x="783" dy="27">ASSEMBLY</tspan></text></g>
<g id="macromolecular-complex-assembly"><circle class="nb c1" cx="965" cy="2281" r="15"/><text x="963" y="2234">MACROMOLECULAR<tspan x="963" dy="27">COMPLEX ASSEMBLY</tspan></text></g>
<g id="cellular-macromolecular-complex-assembly"><circle class="nb c5" cx="691" cy="2320" r="14"/><text x="688" y="2248">CELLULAR<tspan x="688" dy="27">MACROMOLECULAR</tspan><tspan x="688" dy="27">COMPLEX ASSEMBLY</tspan></text></g>
<g id="macromolecular-complex-subunit-organization"><circle class="nb c3" cx="863" cy="2418" r="14"/><text x="860" y="2348">MACROMOLECULAR<tspan x="860" dy="27">COMPLEX SUBUNIT</tspan><tspan x="860" dy="27">ORGANIZATION</tspan></text></g>
<g id="cysteine-type-endopeptidase-activity"><circle class="nb c3" cx="522" cy="2436" r="12"/><text x="520" y="2364">CYSTEINE-TYPE<tspan x="520" dy="27">ENDOPEPTIDASE</tspan><tspan x="520" dy="27">ACTIVITY</tspan></text></g>
<g id="intracellular-b"><circle class="nb c1" cx="704" cy="2501" r="22"/><text x="704" y="2474">INTRACELLULAR</text></g>
<g id="intracellular-part-b"><circle class="nb c1" cx="979" cy="2500" r="22"/><text x="980" y="2471">INTRACELLULAR PART</text></g>
<g id="organelle-b"><circle class="nb c2" cx="562" cy="2560" r="19"/><text x="563" y="2535">ORGANELLE</text></g>
<g id="cell-part-b"><circle class="nb c1" cx="734" cy="2607" r="29"/><text x="734" y="2573">CELL PART</text></g>
<g id="cytoplasmic-part-b"><circle class="nb c2" cx="925" cy="2590" r="17"/><text x="926" y="2566">CYTOPLASMIC PART</text></g>
<g id="cytosol"><circle class="nb c4" cx="1054" cy="2618" r="14"/><text x="1054" y="2600">CYTOSOL</text></g>
<g id="intracellular-organelle-b"><circle class="nb c2" cx="506" cy="2679" r="19"/><text x="504" y="2628">INTRACELLULAR<tspan x="504" dy="27">ORGANELLE</tspan></text></g>
<g id="cellular-component-b"><circle class="nb c1" cx="1084" cy="2699" r="30"/><text x="1085" y="2665">CELLULAR_COMPONENT</text></g>
<g id="ribonucleoprotein-complex-b"><circle class="nb c1" cx="755" cy="2726" r="16"/><text x="752" y="2678">RIBONUCLEOPROTEIN<tspan x="752" dy="27">COMPLEX</tspan></text></g>
<g id="ribosome-b"><circle class="nb c3" cx="925" cy="2736" r="16"/><text x="924" y="2715">RIBOSOME</text></g>
<g id="macromolecular-complex-b"><circle class="nb c3" cx="464" cy="2846" r="17"/><text x="460" y="2795">MACROMOLECULAR<tspan x="460" dy="27">COMPLEX</tspan></text></g>
<g id="cytoplasm-b"><circle class="nb c0" cx="887" cy="2822" r="18"/><text x="887" y="2798">CYTOPLASM</text></g>
<g id="structural-constituent-of-ribosome-b"><circle class="nb c2" cx="1068" cy="2870" r="16"/><text x="1065" y="2796">STRUCTURAL<tspan x="1065" dy="27">CONSTITUENT OF</tspan><tspan x="1065" dy="27">RIBOSOME</tspan></text></g>
<g id="cellular-macromolecule-biosynthetic-process-b"><circle class="nb c3" cx="685" cy="2889" r="17"/><text x="682" y="2813">CELLULAR<tspan x="682" dy="27">MACROMOLECULE</tspan><tspan x="682" dy="27">BIOSYNTHETIC PROCESS</tspan></text></g>
<g id="macromolecule-biosynthetic-process-b"><circle class="nb c3" cx="895" cy="2956" r="17"/><text x="892" y="2909">MACROMOLECULE<tspan x="892" dy="27">BIOSYNTHETIC PROCESS</tspan></text></g>
<g id="structural-molecule-activity-b"><circle class="nb c5" cx="602" cy="2990" r="15"/><text x="598" y="2944">STRUCTURAL MOLECULE<tspan x="598" dy="27">ACTIVITY</tspan></text></g>
<g id="cell-b"><circle class="nb c1" cx="1031" cy="2992" r="29"/><text x="1031" y="2959">CELL</text></g>
<g id="translation-b"><circle class="nb c2" cx="566" cy="3065" r="16"/><text x="566" y="3046">TRANSLATION</text></g>
<g id="gene-expression-b"><circle class="nb c1" cx="829" cy="3063" r="18"/><text x="829" y="3041">GENE EXPRESSION</text></g>
<g id="biosynthetic-process-b"><circle class="nb c3" cx="625" cy="3176" r="20"/><text x="626" y="3151">BIOSYNTHETIC PROCESS</text></g>
<g id="cellular-biosynthetic-process-b"><circle class="nb c2" cx="829" cy="3204" r="20"/><text x="826" y="3154">CELLULAR<tspan x="826" dy="27">BIOSYNTHETIC PROCESS</tspan></text></g>
</g>

<g id="nodes-nucleotide" class="u">
<g id="ribonucleotide-binding"><circle class="nb c5" cx="1735" cy="1938" r="26"/><text x="1731" y="1880">RIBONUCLEOTIDE<tspan x="1731" dy="27">BINDING</tspan></text></g>
<g id="nucleotide-binding"><circle class="nb c4" cx="1561" cy="1999" r="27"/><text x="1560" y="1968">NUCLEOTIDE BINDING</text></g>
<g id="purine-nucleoside-binding"><circle class="nb c5" cx="1852" cy="2034" r="26"/><text x="1848" y="1978">PURINE NUCLEOSIDE<tspan x="1848" dy="27">BINDING</tspan></text></g>
<g id="nucleoside-binding"><circle class="nb c6" cx="1662" cy="2076" r="25"/><text x="1662" y="2045">NUCLEOSIDE BINDING</text></g>
<g id="purine-nucleotide-binding"><circle class="nb c6" cx="1913" cy="2135" r="25"/><text x="1910" y="2077">PURINE NUCLEOTIDE<tspan x="1910" dy="27">BINDING</tspan></text></g>
<g id="adp-binding"><circle class="nb c1" cx="1552" cy="2139" r="16"/><text x="1551" y="2117">ADP BINDING</text></g>
<g id="adenyl-nucleotide-binding"><circle class="nb c5" cx="1751" cy="2212" r="25"/><text x="1747" y="2155">ADENYL NUCLEOTIDE<tspan x="1747" dy="27">BINDING</tspan></text></g>
<g id="adenyl-ribonucleotide-binding"><circle class="nb c4" cx="1634" cy="2319" r="25"/><text x="1631" y="2237">ADENYL<tspan x="1631" dy="27">RIBONUCLEOTIDE</tspan><tspan x="1631" dy="27">BINDING</tspan></text></g>
<g id="purine-ribonucleotide-binding"><circle class="nb c5" cx="1854" cy="2318" r="25"/><text x="1851" y="2234">PURINE<tspan x="1851" dy="27">RIBONUCLEOTIDE</tspan><tspan x="1851" dy="27">BINDING</tspan></text></g>
</g>

<g id="nodes-circadian" class="u">
<g id="positive-regulation-of-circadian-rhythm"><circle class="na c2" cx="1689" cy="2792" r="13"/><text x="1684" y="2749">POSITIVE REGULATION<tspan x="1684" dy="25">OF CIRCADIAN RHYTHM</tspan></text></g>
<g id="regulation-of-circadian-rhythm"><circle class="na c2" cx="1758" cy="2958" r="13"/><text x="1755" y="2915">REGULATION OF<tspan x="1755" dy="26">CIRCADIAN RHYTHM</tspan></text></g>
</g>
</svg>
